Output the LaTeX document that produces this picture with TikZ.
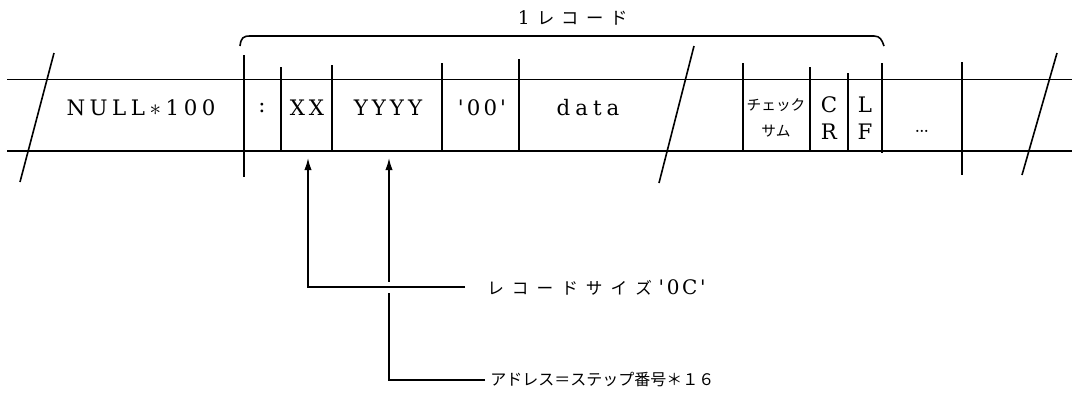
\documentclass[tikz,border=0pt]{standalone}
\usepackage{fontspec}
\newfontfamily\cjk{Noto Sans CJK JP}
\newfontfamily\lat{DejaVu Serif}
\usetikzlibrary{arrows.meta}
\newdimen\lsd
\def\lsp#1#2{\lsd=#1\relax\lspa#2\relax}
\def\lspa#1{#1\lspb}
\def\lspb#1{\ifx#1\relax\else\hspace{\lsd}#1\expandafter\lspb\fi}
\def\astx{\ensuremath{\ast}}
\def\qx{\textquotesingle}
\begin{document}
\begin{tikzpicture}[x=0.75pt,y=-0.75pt,
  rule/.style={line width=1.4pt},
  bar/.style={line width=2.1pt},
  sep/.style={line width=1.2pt},
  cell/.style={font=\lat\fontsize{16}{20}\selectfont, inner sep=0pt},
  small/.style={font=\cjk\fontsize{11}{20}\selectfont, inner sep=0pt, align=center},
  lbl/.style={inner sep=0pt, anchor=west},
  arr/.style={-{Latex[length=9pt,width=5.5pt]}, line width=1.2pt}]
\useasboundingbox (0,0) rectangle (1076,397);
% horizontal rules
\draw[rule] (7,79.5) -- (1072,79.5);
\draw[rule] (7,151) -- (1072,151);
% break slashes
\draw[sep] (54,53) -- (20,182);
\draw[sep] (694,46) -- (659,183);
\draw[sep] (1057,53) -- (1022,175);
% field separators
\draw[bar] (244,55) -- (244,177);
\draw[sep] (281,67) -- (281,151);
\draw[sep] (332,65) -- (332,151);
\draw[sep] (442,63) -- (442,151);
\draw[bar] (519,59) -- (519,151);
\draw[sep] (743,63) -- (743,151);
\draw[sep] (810,67) -- (810,151);
\draw[sep] (848,73) -- (848,151);
\draw[bar] (882,63) -- (882,153);
\draw[sep] (962,62) -- (962,175);
% brace
\draw[sep] (240,46) .. controls (241,38) and (243,36) .. (250,36) -- (874,36) .. controls (880,36) and (882,40) .. (884,46);
\node[inner sep=0pt, font=\cjk\fontsize{13}{14}\selectfont] (rec) at (573,18) {{\lat\fontsize{14}{16}\selectfont 1}\hspace{5.4pt}\lsp{5.4pt}{レコード}};
% cell texts
\node[cell] (null) at (141,108) {\lsp{3.4pt}{NULL\astx100}};
\node[cell] (colon) at (262,108) {:};
\node[cell] (xx) at (307,108) {\lsp{3pt}{XX}};
\node[cell] (yyyy) at (388,108) {\lsp{3pt}{YYYY}};
\node[cell] (zero) at (482,108) {\lsp{2.3pt}{\qx00\qx}};
\node[cell] (data) at (588,108) {\lsp{3.8pt}{data}};
\node[small] (sum) at (776,118) {チェック\\サム};
\node[cell, align=center] (cr) at (829,118) {C\\R};
\node[cell, align=center] (lf) at (865,118) {L\\F};
\node[inner sep=0pt, font=\fontsize{20}{20}\selectfont] (dots) at (922,131) {\dots};
% pointer labels
\coordinate (xxb) at (308,158);
\coordinate (yyb) at (389,158);
\node[lbl, font=\cjk\fontsize{12.5}{14}\selectfont] (l1) at (487,287) {\lsp{6pt}{レコードサイズ}\hspace{5pt}{\lat\fontsize{15}{16}\selectfont\lsp{2pt}{\qx0C\qx}}};
\node[lbl, font=\cjk\fontsize{12}{14}\selectfont] (l2) at (490,380) {アドレス＝ステップ番号＊１６};
\draw[arr] ([xshift=-3.75pt]l2.west) -| (yyb);
\draw[white, line width=3pt] (389,282) -- (389,293);
\draw[arr] ([xshift=-16.5pt]l1.west) -| (xxb);
\end{tikzpicture}
\end{document}
